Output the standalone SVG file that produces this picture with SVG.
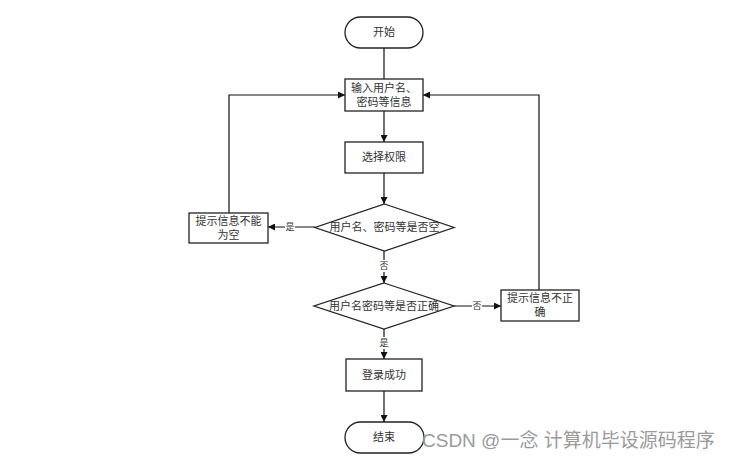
<svg xmlns="http://www.w3.org/2000/svg" width="735" height="459" viewBox="0 0 735 459">
<style>
.shape{fill:#fff;stroke:#222;stroke-width:1.3}
.line{fill:none;stroke:#111;stroke-width:1.2}
.t{font-family:"Liberation Serif","Noto Sans CJK SC",serif;font-size:11px;fill:#333;text-anchor:middle}
.lbl{font-family:"Liberation Serif","Noto Sans CJK SC",serif;font-size:9px;fill:#333;text-anchor:middle}
.bg{fill:#fff;stroke:none}
.wm{font-family:"Liberation Sans","Noto Sans CJK SC",sans-serif;font-size:19px;fill:#9a9a9a}
</style>
<defs>
<marker id="ah" viewBox="0 0 10 10" refX="10" refY="5" markerWidth="7" markerHeight="7" markerUnits="userSpaceOnUse" orient="auto">
<path d="M0,0 L10,5 L0,10 z" fill="#111"/>
</marker>
</defs>
<rect width="735" height="459" fill="#fff"/>
<g id="connectors">
<path class="line" d="M384,48 V79"/>
<path class="line" d="M384,111 V142" marker-end="url(#ah)"/>
<path class="line" d="M384,173 V204" marker-end="url(#ah)"/>
<path class="line" d="M315,227 H268" marker-end="url(#ah)"/>
<path class="line" d="M229,213 V95 H345" marker-end="url(#ah)"/>
<path class="line" d="M384,251 V283" marker-end="url(#ah)"/>
<path class="line" d="M454,306 H501" marker-end="url(#ah)"/>
<path class="line" d="M539,290 V95 H423" marker-end="url(#ah)"/>
<path class="line" d="M384,329 V359" marker-end="url(#ah)"/>
<path class="line" d="M384,391 V422" marker-end="url(#ah)"/>
<rect class="bg" x="285" y="221" width="10" height="12"/>
<text class="lbl" x="290" y="230">是</text>
<rect class="bg" x="379" y="260" width="10" height="12"/>
<text class="lbl" x="384" y="269">否</text>
<rect class="bg" x="472" y="300" width="10" height="12"/>
<text class="lbl" x="477" y="309">否</text>
<rect class="bg" x="379" y="337" width="10" height="12"/>
<text class="lbl" x="384" y="346">是</text>
</g>
<g id="start">
<rect class="shape" x="345" y="17" width="78" height="31" rx="15.5"/>
<text class="t" x="384" y="36">开始</text>
</g>
<g id="input">
<rect class="shape" x="345" y="79" width="78" height="32"/>
<text class="t" x="384" y="92">输入用户名、</text>
<text class="t" x="384" y="106">密码等信息</text>
</g>
<g id="select">
<rect class="shape" x="345" y="142" width="78" height="31"/>
<text class="t" x="384" y="161">选择权限</text>
</g>
<g id="check-empty">
<polygon class="shape" points="384.5,204 454,227.5 384.5,251 315,227.5"/>
<text class="t" x="384.5" y="231">用户名、密码等是否空</text>
</g>
<g id="empty-msg">
<rect class="shape" x="189" y="213" width="79" height="30"/>
<text class="t" x="228.5" y="225">提示信息不能</text>
<text class="t" x="228.5" y="239">为空</text>
</g>
<g id="check-correct">
<polygon class="shape" points="384,283 454,306 384,329 314,306"/>
<text class="t" x="384" y="310">用户名密码等是否正确</text>
</g>
<g id="wrong-msg">
<rect class="shape" x="501" y="290" width="78" height="31"/>
<text class="t" x="540" y="302">提示信息不正</text>
<text class="t" x="540" y="316">确</text>
</g>
<g id="success">
<rect class="shape" x="346" y="359" width="76" height="32"/>
<text class="t" x="384" y="379">登录成功</text>
</g>
<g id="end">
<rect class="shape" x="345" y="422" width="79" height="31" rx="15.5"/>
<text class="t" x="384" y="441">结束</text>
</g>
<text class="wm" x="422" y="447">CSDN @一念 计算机毕设源码程序</text>
</svg>
